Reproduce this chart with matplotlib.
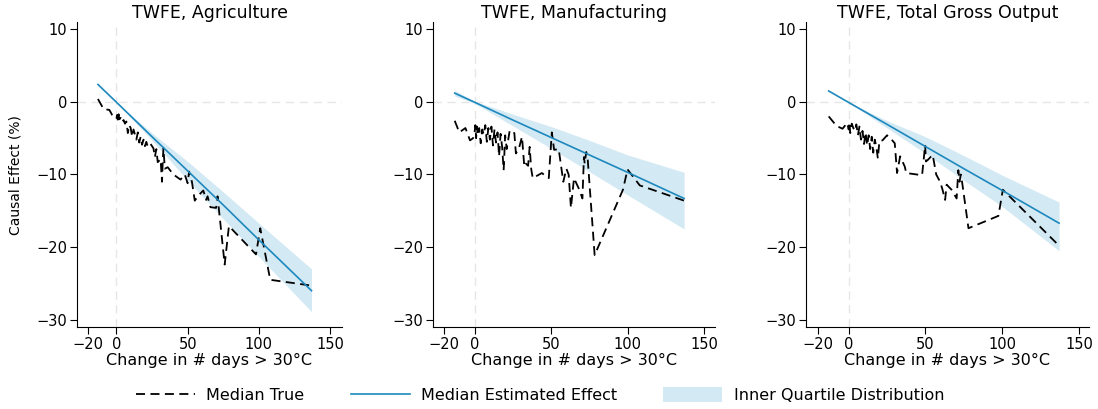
import numpy as np
import matplotlib
matplotlib.use("Agg")
import matplotlib.pyplot as plt
from matplotlib.lines import Line2D
from matplotlib.patches import Patch

plt.rcParams['font.family'] = ['DejaVu Sans']

# ---- data ----
titles = ["TWFE, Agriculture", "TWFE, Manufacturing", "TWFE, Total Gross Output"]

# median true effect (dashed)
agri_x = [-13, -9, -5, -3, 0, 0.5, 1, 1.5, 2, 3, 4, 5, 6, 7, 8, 9, 10, 11, 12, 13,
          14, 15, 16, 17, 18, 19, 20, 21, 22, 24, 26, 27, 28, 29, 31, 32, 32.5, 33, 34, 36,
          40, 45, 48, 50, 51, 53, 55, 58, 61, 63, 64, 66, 70, 71, 76, 79, 98, 101, 108, 137]
agri_y = [0.4, -1.0, -1.1, -1.8, -2.3, -1.8, -2.6, -1.7, -2.4, -2.2, -2.8, -2.5, -3.0, -2.7, -4.3, -3.2, -3.6, -4.8, -3.8, -4.5,
          -5.2, -4.2, -5.6, -4.8, -5.9, -5.2, -6.1, -5.5, -6.2, -5.8, -6.4, -7.6, -6.5, -8.3, -7.9, -11.0, -8.2, -6.4, -9.2, -9.0,
          -10.0, -10.7, -10.0, -11.2, -9.6, -11.0, -13.6, -12.8, -12.2, -13.5, -13.0, -14.5, -14.6, -13.0, -22.4, -17.1, -21.0, -17.4, -24.5, -25.3]

manu_x = [-13, -10, -6, -3, -1, 0, 0.5, 1, 1.5, 2, 3, 4, 5, 6, 7, 8, 9, 10, 11, 12,
          13, 14, 15, 16, 17, 18, 19, 20, 21, 23, 26, 27, 29, 31, 32.5, 33.5, 35, 36, 37, 38,
          44, 47, 48.5, 50.5, 52, 55, 58, 60, 61.5, 63, 65, 68.5, 70.5, 71.5, 72, 73, 74, 78.5, 97, 100,
          108, 137]
manu_y = [-2.6, -4.2, -3.6, -5.3, -5.0, -4.2, -3.2, -5.0, -3.4, -4.6, -3.6, -5.7, -3.8, -4.5, -3.2, -5.5, -3.6, -5.2, -3.4, -6.0,
          -3.8, -5.6, -4.2, -7.5, -4.4, -6.2, -9.4, -4.6, -6.5, -3.9, -4.3, -7.1, -6.4, -4.8, -8.9, -8.5, -8.8, -6.2, -9.2, -10.5,
          -9.8, -10.3, -10.5, -4.2, -6.6, -6.5, -11.0, -9.2, -10.0, -14.6, -10.5, -12.1, -13.3, -7.6, -8.5, -6.9, -8.0, -21.1, -12.1, -9.3,
          -11.5, -13.6]

tot_x = [-13, -8, -4, -1, 0, 0.5, 1, 2, 3, 4, 5, 6, 7, 8, 9, 10, 11, 12, 13, 14,
         15, 16, 17, 18, 19, 20, 22, 25, 28, 30, 31.5, 33.5, 35, 36.5, 37.5, 47.8, 49.8, 50.3, 51.5, 54.7,
         57, 59.5, 61, 62.8, 63.8, 67, 70.3, 71.4, 72.2, 73, 73.5, 78, 97.5, 100.4, 136.5]
tot_y = [-2.0, -3.3, -3.7, -2.9, -3.8, -2.8, -4.3, -3.0, -3.6, -4.0, -3.1, -4.6, -3.4, -5.2, -4.0, -5.8, -4.2, -6.0, -4.6, -6.5,
         -4.8, -7.0, -5.2, -6.2, -7.8, -5.4, -5.3, -4.6, -5.2, -5.7, -9.8, -7.5, -8.2, -8.9, -9.8, -10.1, -5.95, -8.2, -8.0, -7.3,
         -10.0, -11.0, -12.0, -13.5, -11.4, -12.1, -13.3, -9.4, -11.0, -10.0, -10.5, -17.4, -15.7, -12.1, -19.7]

# median estimated effect + inner quartile band
est_x = [-13, 0, 25, 50, 75, 100, 137]
agri_est = [2.4, -0.05, -4.8, -9.5, -14.2, -19.0, -26.0]
agri_hi = [2.4, -0.05, -4.3, -8.2, -12.4, -16.7, -23.0]
agri_lo = [2.4, -0.05, -5.3, -10.8, -16.1, -21.3, -28.9]
manu_est = [1.2, -0.05, -2.5, -4.9, -7.3, -9.7, -13.3]
manu_hi = [1.6, 0.1, -1.7, -3.4, -5.3, -7.3, -9.7]
manu_lo = [0.8, -0.2, -3.3, -6.4, -9.6, -12.8, -17.5]
tot_est = [1.5, -0.08, -3.1, -6.15, -9.2, -12.2, -16.7]
tot_hi = [1.5, -0.08, -2.6, -4.8, -7.4, -10.1, -13.8]
tot_lo = [1.5, -0.08, -3.6, -7.1, -10.8, -14.4, -20.5]

xticks = [-20, 0, 50, 100, 150]
yticks = [10, 0, -10, -20, -30]

true_x = [agri_x, manu_x, tot_x]
true_y = [agri_y, manu_y, tot_y]
ests = [agri_est, manu_est, tot_est]
his = [agri_hi, manu_hi, tot_hi]
los = [agri_lo, manu_lo, tot_lo]

blue = '#1d88be'
band = '#d3e9f3'
dash = (5, 3)

W, H = 1098, 409
fig = plt.figure(figsize=(W / 100, H / 100), dpi=100)

# axes boxes in pixels: left, right, and x-limits
boxes = [(77, 342, -27.7, 158.4), (433, 715, -27.2, 157.2), (806, 1089, -27.8, 156.5)]
top_px, bot_px = 22, 327

for i, (l, r, x0, x1) in enumerate(boxes):
    ax = fig.add_axes([l / W, 1 - bot_px / H, (r - l) / W, (bot_px - top_px) / H])
    ax.axhline(0, color='#e6e6e6', lw=1, ls=(0, (6, 4)), zorder=0)
    ax.axvline(0, color='#e6e6e6', lw=1, ls=(0, (6, 4)), zorder=0)
    ax.fill_between(est_x, los[i], his[i], color=band, lw=0, zorder=1)
    ax.plot(est_x, ests[i], color=blue, lw=1.2, zorder=3)
    ax.plot(true_x[i], true_y[i], color='black', lw=1.3, dashes=dash, zorder=2)
    ax.set_xlim(x0, x1)
    ax.set_ylim(-31, 11)
    ax.set_xticks(xticks)
    ax.set_yticks(yticks)
    ax.tick_params(labelsize=10.5, length=5, width=0.8, pad=2)
    for s in ['top', 'right']:
        ax.spines[s].set_visible(False)
    for s in ['left', 'bottom']:
        ax.spines[s].set_linewidth(0.8)
    ax.set_title(titles[i], fontsize=12.5, pad=3)
    ax.set_xlabel("Change in # days > 30°C", fontsize=11.5, labelpad=1)

fig.text(16 / W, 1 - 175 / H, "Causal Effect (%)", rotation=90, ha='center', va='center',
         fontsize=10, family=['Liberation Sans Narrow', 'DejaVu Sans'])

handles = [Line2D([], [], color='black', lw=1.3, dashes=dash),
           Line2D([], [], color=blue, lw=1.2),
           Patch(facecolor=band, edgecolor='none')]
labels = ["Median True", "Median Estimated Effect", "Inner Quartile Distribution"]
fig.legend(handles, labels, loc='center', bbox_to_anchor=(540 / W, 1 - 395 / H), ncol=3,
           frameon=False, fontsize=11.5, handlelength=3.7, handleheight=1.1,
           handletextpad=0.7, columnspacing=2.9)

fig.savefig("out.png", dpi=100)
